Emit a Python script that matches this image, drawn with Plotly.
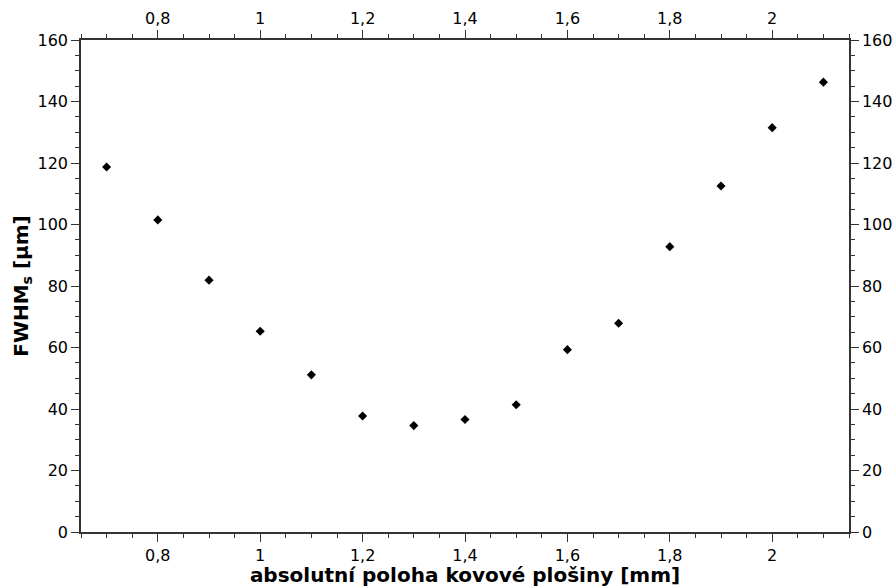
import plotly.graph_objects as go

x_pos = [0.7, 0.8, 0.9, 1.0, 1.1, 1.2, 1.3, 1.4, 1.5, 1.6, 1.7, 1.8, 1.9, 2.0, 2.1]
fwhm = [118.7, 101.5, 81.9, 65.3, 51.1, 37.7, 34.6, 36.6, 41.4, 59.3, 67.9, 92.8, 112.5, 131.5, 146.3]

x_title = "absolutní poloha kovové plošiny [mm]"
y_title = "FWHM<sub>s</sub> [µm]"

FONT = "DejaVu Sans"
AX = "#333333"

fig = go.Figure()
fig.add_trace(go.Scatter(x=x_pos, y=fwhm, mode="markers",
                         marker=dict(symbol="diamond", size=7, color="black"),
                         showlegend=False))
# invisible trace to activate the mirrored top/right axes
fig.add_trace(go.Scatter(x=x_pos, y=fwhm, mode="markers", xaxis="x2", yaxis="y2",
                         marker=dict(opacity=0), hoverinfo="skip", showlegend=False))

common_x = dict(range=[0.65, 2.15], tick0=0.8, dtick=0.2, ticks="outside", ticklen=8,
                tickwidth=1.2, tickcolor=AX, showline=True, linecolor=AX, linewidth=1.5,
                showgrid=False, zeroline=False, automargin=False,
                tickfont=dict(family=FONT, size=16, color="black"),
                minor=dict(dtick=0.05, tick0=0.65, ticks="outside", ticklen=4,
                           tickcolor=AX, tickwidth=1, showgrid=False))
common_y = dict(range=[0, 160], tick0=0, dtick=20, ticks="outside", ticklen=8,
                tickwidth=1.2, tickcolor=AX, showline=True, linecolor=AX, linewidth=1.5,
                showgrid=False, zeroline=False, automargin=False,
                tickfont=dict(family=FONT, size=16, color="black"),
                minor=dict(dtick=5, tick0=0, ticks="outside", ticklen=4,
                           tickcolor=AX, tickwidth=1, showgrid=False))

fig.update_layout(
    width=895, height=587,
    margin=dict(l=81, r=46, t=40, b=55),
    paper_bgcolor="white", plot_bgcolor="white",
    separators=", ",
    font=dict(family=FONT, color="black"),
    xaxis=dict(**common_x, side="bottom",
               title=dict(text=x_title, font=dict(family=FONT, size=20, color="black",
                                                  weight="bold"), standoff=2)),
    yaxis=dict(**common_y, side="left",
               title=dict(text=y_title, font=dict(family=FONT, size=20, color="black",
                                                  weight="bold"), standoff=4)),
    xaxis2=dict(**common_x, side="top", overlaying="x", matches="x"),
    yaxis2=dict(**common_y, side="right", overlaying="y", matches="y"),
)

fig.write_html("out.html")
